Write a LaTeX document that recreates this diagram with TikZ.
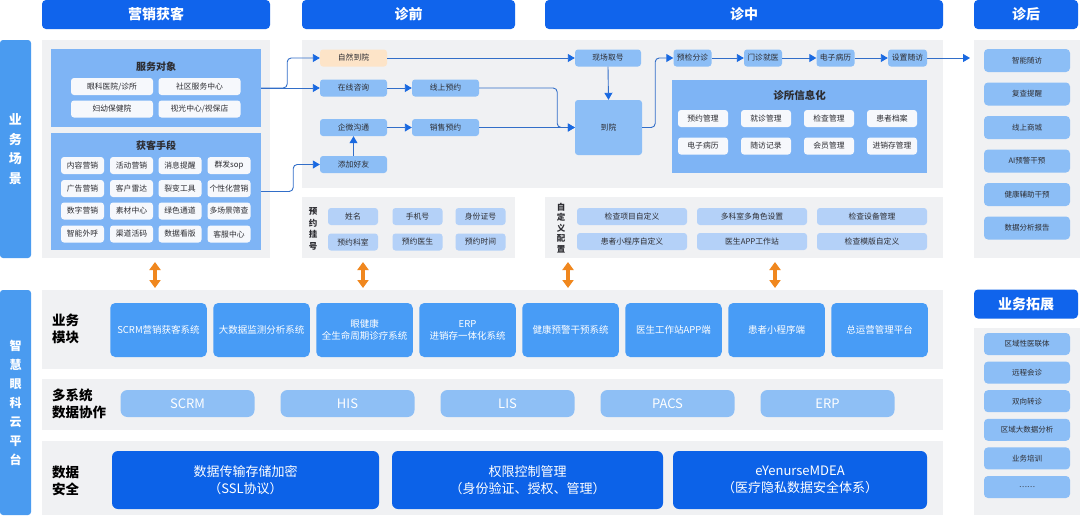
\documentclass[tikz,border=0pt]{standalone}
\usepackage{fontspec}
\setmainfont{Noto Sans CJK SC}
\usetikzlibrary{arrows.meta}
\definecolor{hdrblue}{RGB}{16,100,236}
\definecolor{barblue}{RGB}{74,155,240}
\definecolor{panelgray}{RGB}{240,241,243}
\definecolor{subblue}{RGB}{126,180,245}
\definecolor{itemwhite}{RGB}{246,248,252}
\definecolor{flowblue}{RGB}{140,190,246}
\definecolor{paleblue}{RGB}{180,209,248}
\definecolor{peach}{RGB}{253,228,200}
\definecolor{modblue}{RGB}{72,156,246}
\definecolor{pillblue}{RGB}{142,191,245}
\definecolor{secblue}{RGB}{12,98,232}
\definecolor{orangec}{RGB}{240,135,30}
\definecolor{linec}{RGB}{50,110,200}
\definecolor{arrowc}{RGB}{25,105,225}
\definecolor{textdark}{RGB}{45,45,50}
\newcommand\myfs[2]{\fontsize{#1}{#2}\selectfont}
\begin{document}
\begin{tikzpicture}[x=1pt,y=-1pt,
  hdr/.style={fill=hdrblue, rounded corners=4pt, text=white, font=\myfs{14}{16}\bfseries, inner sep=0pt},
  vbar/.style={fill=barblue, rounded corners=3pt, text=white, align=center, inner sep=0pt},
  sub/.style={fill=subblue, inner sep=0pt},
  subtitle/.style={font=\myfs{10}{12}\bfseries, text=textdark, inner sep=0pt},
  wbox/.style={fill=itemwhite, rounded corners=3pt, text=textdark, font=\myfs{7.8}{9}, inner sep=0pt, minimum height=17pt},
  fbox/.style={fill=flowblue, rounded corners=3pt, text=textdark, font=\myfs{7.8}{9}, inner sep=0pt, minimum height=17pt},
  pbox/.style={fill=paleblue, rounded corners=3pt, text=textdark, font=\myfs{7.8}{9}, inner sep=0pt, minimum height=17pt},
  hbox/.style={fill=flowblue, rounded corners=4pt, text=textdark, font=\myfs{7.5}{9}, inner sep=0pt, minimum width=86pt},
  vlab/.style={font=\myfs{8.5}{11.5}\bfseries, text=textdark, align=center, inner sep=0pt},
  mod/.style={fill=modblue, rounded corners=5pt, text=white, font=\myfs{9.5}{12}, align=center, minimum width=96.5pt, minimum height=54pt, inner sep=0pt},
  pill/.style={fill=pillblue, rounded corners=7pt, text=white, font=\myfs{13}{15}, minimum width=134pt, minimum height=27pt, inner sep=0pt},
  sec/.style={fill=secblue, rounded corners=6pt, text=white, font=\myfs{13}{17}, align=center, minimum height=58pt, inner sep=0pt},
  lbl/.style={font=\myfs{13.5}{17.5}\bfseries, align=left, text=black, anchor=west, inner sep=0pt},
  flow/.style={draw=linec, line width=0.9pt, rounded corners=4pt, -{Triangle[length=7pt,width=8pt,color=arrowc]}},
  oarr/.style={draw=orangec, line width=4pt, {Triangle[length=8pt,width=11pt]}-{Triangle[length=8pt,width=11pt]}}
]
\useasboundingbox (0,0) rectangle (1080,515);
\fill[white] (0,0) rectangle (1080,515);

% headers
\node[hdr, minimum width=228pt, minimum height=29pt] (h1) at (156,14.5) {营销获客};
\node[hdr, minimum width=213pt, minimum height=29pt] (h2) at (408.5,14.5) {诊前};
\node[hdr, minimum width=398pt, minimum height=29pt] (h3) at (744,14.5) {诊中};
\node[hdr, minimum width=104pt, minimum height=29pt] (h4) at (1026,14.5) {诊后};
\node[hdr, minimum width=104pt, minimum height=29pt] (h5) at (1026,304) {业务拓展};

% left bars
\node[vbar, minimum width=31pt, minimum height=218pt, font=\myfs{13}{19.5}\bfseries] (lb1) at (15.5,149) {业\\务\\场\\景};
\node[vbar, minimum width=31pt, minimum height=225pt, font=\myfs{12}{19}\bfseries] (lb2) at (15.5,402.5) {智\\慧\\眼\\科\\云\\平\\台};

% gray panels
\fill[panelgray] (42,40) rectangle (270,258);
\fill[panelgray] (302,40) rectangle (943,188);
\fill[panelgray] (302,197) rectangle (515,258);
\fill[panelgray] (545,197) rectangle (943,258);
\fill[panelgray] (974,40) rectangle (1080,258);
\fill[panelgray] (42,290) rectangle (943,369);
\fill[panelgray] (42,379) rectangle (943,430);
\fill[panelgray] (42,441) rectangle (943,515);
\fill[panelgray] (974,328) rectangle (1080,515);

% 服务对象
\node[sub, minimum width=210pt, minimum height=78pt] (S1) at (156,88) {};
\node[subtitle] (S1t) at (156,67) {服务对象};
\node[wbox, minimum width=82pt] (s11) at (112,86.5) {眼科医院/诊所};
\node[wbox, minimum width=82pt] (s12) at (199.5,86.5) {社区服务中心};
\node[wbox, minimum width=82pt] (s13) at (112,109) {妇幼保健院};
\node[wbox, minimum width=82pt] (s14) at (199.5,109) {视光中心/视保店};

% 获客手段
\node[sub, minimum width=210pt, minimum height=117pt] (S2) at (156,191.5) {};
\node[subtitle] (S2t) at (156,146) {获客手段};
\node[wbox, minimum width=43pt] (a11) at (82.5,165.5) {内容营销};
\node[wbox, minimum width=43pt] (a12) at (131.5,165.5) {活动营销};
\node[wbox, minimum width=43pt] (a13) at (180,165.5) {消息提醒};
\node[wbox, minimum width=43pt] (a14) at (229,165.5) {群发sop};
\node[wbox, minimum width=43pt] (a21) at (82.5,188.5) {广告营销};
\node[wbox, minimum width=43pt] (a22) at (131.5,188.5) {客户雷达};
\node[wbox, minimum width=43pt] (a23) at (180,188.5) {裂变工具};
\node[wbox, minimum width=43pt] (a24) at (229,188.5) {个性化营销};
\node[wbox, minimum width=43pt] (a31) at (82.5,211) {数字营销};
\node[wbox, minimum width=43pt] (a32) at (131.5,211) {素材中心};
\node[wbox, minimum width=43pt] (a33) at (180,211) {绿色通道};
\node[wbox, minimum width=43pt] (a34) at (229,211) {多场景筛查};
\node[wbox, minimum width=43pt] (a41) at (82.5,234) {智能外呼};
\node[wbox, minimum width=43pt] (a42) at (131.5,234) {渠道活码};
\node[wbox, minimum width=43pt] (a43) at (180,234) {数据看版};
\node[wbox, minimum width=43pt] (a44) at (229,234) {客服中心};

% flow nodes
\node[fbox, fill=peach, minimum width=67pt] (zrdy) at (353.5,58) {自然到院};
\node[fbox, minimum width=67pt] (zxzx) at (353.5,88) {在线咨询};
\node[fbox, minimum width=67pt] (xsyy1) at (445.5,88) {线上预约};
\node[fbox, minimum width=67pt] (qwgt) at (353.5,127.5) {企微沟通};
\node[fbox, minimum width=67pt] (xsyy2) at (445.5,127.5) {销售预约};
\node[fbox, minimum width=67pt] (tjhy) at (353.5,164.5) {添加好友};
\node[fbox, minimum width=66pt] (xcqh) at (608,58) {现场取号};
\node[fbox, minimum width=67pt, minimum height=55pt] (dy) at (608.5,127.5) {到院};
\node[fbox, minimum width=38pt] (yjfz) at (692.5,58) {预检分诊};
\node[fbox, minimum width=38pt] (mzjy) at (763,58) {门诊就医};
\node[fbox, minimum width=38pt] (dzbl) at (835.5,58) {电子病历};
\node[fbox, minimum width=39pt] (szsf) at (907.5,58) {设置随访};
\coordinate (zhin) at (970,58);

% 诊所信息化
\node[sub, minimum width=255pt, minimum height=93pt] (S3) at (799.5,126.5) {};
\node[subtitle, font=\myfs{10.5}{12}\bfseries] (S3t) at (799.5,95) {诊所信息化};
\node[wbox, minimum width=50pt] (c11) at (703,118.5) {预约管理};
\node[wbox, minimum width=50pt] (c12) at (766,118.5) {就诊管理};
\node[wbox, minimum width=50pt] (c13) at (829,118.5) {检查管理};
\node[wbox, minimum width=50pt] (c14) at (892,118.5) {患者档案};
\node[wbox, minimum width=50pt] (c21) at (703,146) {电子病历};
\node[wbox, minimum width=50pt] (c22) at (766,146) {随访记录};
\node[wbox, minimum width=50pt] (c23) at (829,146) {会员管理};
\node[wbox, minimum width=50pt] (c24) at (892,146) {进销存管理};

% 诊后
\node[hbox, minimum height=23pt] (z1) at (1027,60.5) {智能随访};
\node[hbox, minimum height=23pt] (z2) at (1027,94) {复查提醒};
\node[hbox, minimum height=23pt] (z3) at (1027,127.5) {线上商城};
\node[hbox, minimum height=23pt] (z4) at (1027,161) {AI预警干预};
\node[hbox, minimum height=23pt] (z5) at (1027,194.5) {健康辅助干预};
\node[hbox, minimum height=23pt] (z6) at (1027,228) {数据分析报告};

% 预约挂号
\node[vlab] (yygh) at (313,229) {预\\约\\挂\\号};
\node[pbox, minimum width=50pt] (y11) at (353,216.5) {姓名};
\node[pbox, minimum width=50pt] (y12) at (417.5,216.5) {手机号};
\node[pbox, minimum width=50pt] (y13) at (480.5,216.5) {身份证号};
\node[pbox, minimum width=50pt] (y21) at (353,242) {预约科室};
\node[pbox, minimum width=50pt] (y22) at (417.5,242) {预约医生};
\node[pbox, minimum width=50pt] (y23) at (480.5,242) {预约时间};

% 自定义配置
\node[vlab, font=\myfs{8.5}{10.5}\bfseries] (zdy) at (561,228) {自\\定\\义\\配\\置};
\node[pbox, minimum width=110pt] (d11) at (632,216.5) {检查项目自定义};
\node[pbox, minimum width=110pt] (d12) at (752,216.5) {多科室多角色设置};
\node[pbox, minimum width=110pt] (d13) at (872,216.5) {检查设备管理};
\node[pbox, minimum width=110pt] (d21) at (632,241.5) {患者小程序自定义};
\node[pbox, minimum width=110pt] (d22) at (752,241.5) {医生APP工作站};
\node[pbox, minimum width=110pt] (d23) at (872,241.5) {检查模版自定义};

% flow connectors
\draw[flow] (S1.east) -- (zxzx.west);
\draw[flow] (S1.east) -- ++(26,0) |- (zrdy.west);
\draw[flow] (S2.east) -- ++(32,0) |- (tjhy.west);
\draw[flow] (tjhy.north) -- (qwgt.south);
\draw[flow] (qwgt.east) -- (xsyy2.west);
\draw[flow] (zxzx.east) -- (xsyy1.west);
\draw[flow] (zrdy.east) -- (xcqh.west);
\draw[flow] (xcqh.south) -- (dy.north);
\draw[flow] (xsyy2.east) -- (dy.west);
\draw[flow] (xsyy1.east) -- ++(78,0) |- (dy.west);
\draw[flow] (dy.east) -- ++(13,0) |- (yjfz.west);
\draw[flow] (yjfz.east) -- (mzjy.west);
\draw[flow] (mzjy.east) -- (dzbl.west);
\draw[flow] (dzbl.east) -- (szsf.west);
\draw[flow] (szsf.east) -- (zhin);

% orange arrows
\coordinate (o1t) at (155,262); \coordinate (o1b) at (155,288);
\coordinate (o2t) at (363,262); \coordinate (o2b) at (363,288);
\coordinate (o3t) at (568,262); \coordinate (o3b) at (568,288);
\coordinate (o4t) at (775,262); \coordinate (o4b) at (775,288);
\draw[oarr] (o1t) -- (o1b);
\draw[oarr] (o2t) -- (o2b);
\draw[oarr] (o3t) -- (o3b);
\draw[oarr] (o4t) -- (o4b);

% 业务模块
\node[lbl] (l1) at (52,329) {业务\\模块};
\node[mod] (m1) at (158.5,330) {SCRM营销获客系统};
\node[mod] (m2) at (261.5,330) {大数据监测分析系统};
\node[mod] (m3) at (364.5,330) {眼健康\\全生命周期诊疗系统};
\node[mod] (m4) at (467.5,330) {ERP\\进销存一体化系统};
\node[mod] (m5) at (570.5,330) {健康预警干预系统};
\node[mod] (m6) at (673.5,330) {医生工作站APP端};
\node[mod] (m7) at (776.5,330) {患者小程序端};
\node[mod] (m8) at (879.5,330) {总运营管理平台};

% 多系统数据协作
\node[lbl] (l2) at (52,404) {多系统\\数据协作};
\node[pill] (p1) at (187.5,403.5) {SCRM};
\node[pill] (p2) at (347.5,403.5) {HIS};
\node[pill] (p3) at (507.5,403.5) {LIS};
\node[pill] (p4) at (667.5,403.5) {PACS};
\node[pill] (p5) at (827.5,403.5) {ERP};

% 数据安全
\node[lbl] (l3) at (52,481) {数据\\安全};
\node[sec, minimum width=267pt] (q1) at (245.5,480) {数据传输存储加密\\（SSL协议）};
\node[sec, minimum width=271pt] (q2) at (527.5,480) {权限控制管理\\（身份验证、授权、管理）};
\node[sec, minimum width=254pt] (q3) at (800,480) {eYenurseMDEA\\（医疗隐私数据安全体系）};

% 业务拓展
\node[hbox, minimum height=22pt] (e1) at (1027,344) {区域性医联体};
\node[hbox, minimum height=22pt] (e2) at (1027,372.6) {远程会诊};
\node[hbox, minimum height=22pt] (e3) at (1027,401.2) {双向转诊};
\node[hbox, minimum height=22pt] (e4) at (1027,429.8) {区域大数据分析};
\node[hbox, minimum height=22pt] (e5) at (1027,458.4) {业务培训};
\node[hbox, minimum height=22pt] (e6) at (1027,487) {……};
\end{tikzpicture}
\end{document}
